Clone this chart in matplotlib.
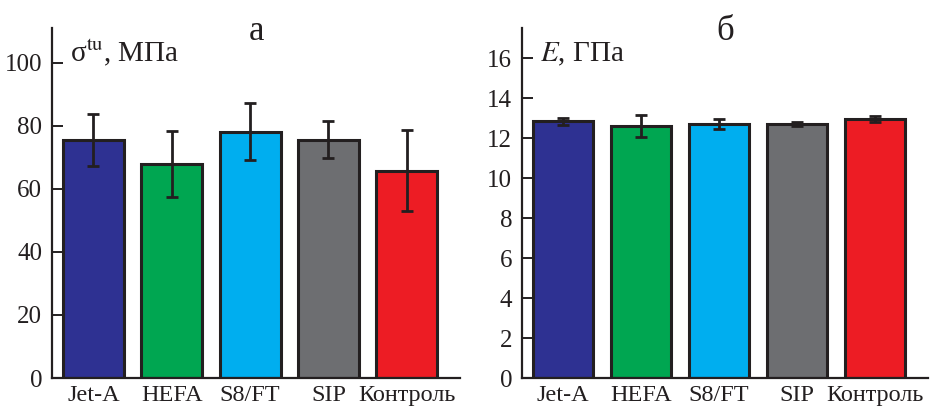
import matplotlib
matplotlib.use("Agg")
import matplotlib.pyplot as plt

plt.rcParams["font.family"] = ["Liberation Serif", "DejaVu Serif"]
plt.rcParams["mathtext.fontset"] = "stix"

categories = ["Jet-A", "HEFA", "S8/FT", "SIP", "Контроль"]
colors = ["#2E3192", "#00A651", "#00AEEF", "#6D6E71", "#ED1C24"]

# (a) tensile strength, MPa
strength = [75.4, 68.0, 78.1, 75.6, 65.8]
strength_err = [8.3, 10.5, 9.0, 5.8, 12.8]

# (b) modulus, GPa
modulus = [12.84, 12.59, 12.69, 12.69, 12.97]
modulus_err = [0.17, 0.55, 0.24, 0.11, 0.15]

edge = "#231F20"

fig = plt.figure(figsize=(9.35, 4.08), dpi=100)
ax1 = fig.add_axes([0.0556, 0.0735, 0.4364, 0.8578])
ax2 = fig.add_axes([0.558, 0.0735, 0.4346, 0.8578])


def draw_panel(ax, values, errs, ymax, yticks, label, title):
    x = range(len(categories))
    ax.bar(x, values, width=0.78, color=colors, edgecolor=edge, linewidth=2.2,
           yerr=errs, capsize=4.5,
           error_kw=dict(ecolor=edge, elinewidth=2, capthick=2))
    ax.set_xlim(-0.53, 4.68)
    ax.set_ylim(0, ymax)
    ax.set_yticks(yticks)
    ax.set_xticks(list(x))
    ax.set_xticklabels(categories)
    for s in ["top", "right"]:
        ax.spines[s].set_visible(False)
    for s in ["left", "bottom"]:
        ax.spines[s].set_linewidth(1.6)
        ax.spines[s].set_color(edge)
    ax.tick_params(axis="y", direction="in", length=8, width=1.4,
                   labelsize=18, pad=7, colors=edge)
    ax.tick_params(axis="x", length=0, labelsize=17.5, pad=5, colors=edge)
    ax.text(0.045, 0.905, label, transform=ax.transAxes, fontsize=21,
            color=edge, ha="left", va="baseline")
    ax.text(0.5, 0.965, title, transform=ax.transAxes, fontsize=25,
            color=edge, ha="center", va="baseline")


draw_panel(ax1, strength, strength_err, 111, [0, 20, 40, 60, 80, 100],
           "σ$^{\\rm tu}$, МПа", "а")
draw_panel(ax2, modulus, modulus_err, 17.5, list(range(0, 17, 2)),
           r"$E$, ГПа", "б")

fig.savefig("out.png", dpi=100)
